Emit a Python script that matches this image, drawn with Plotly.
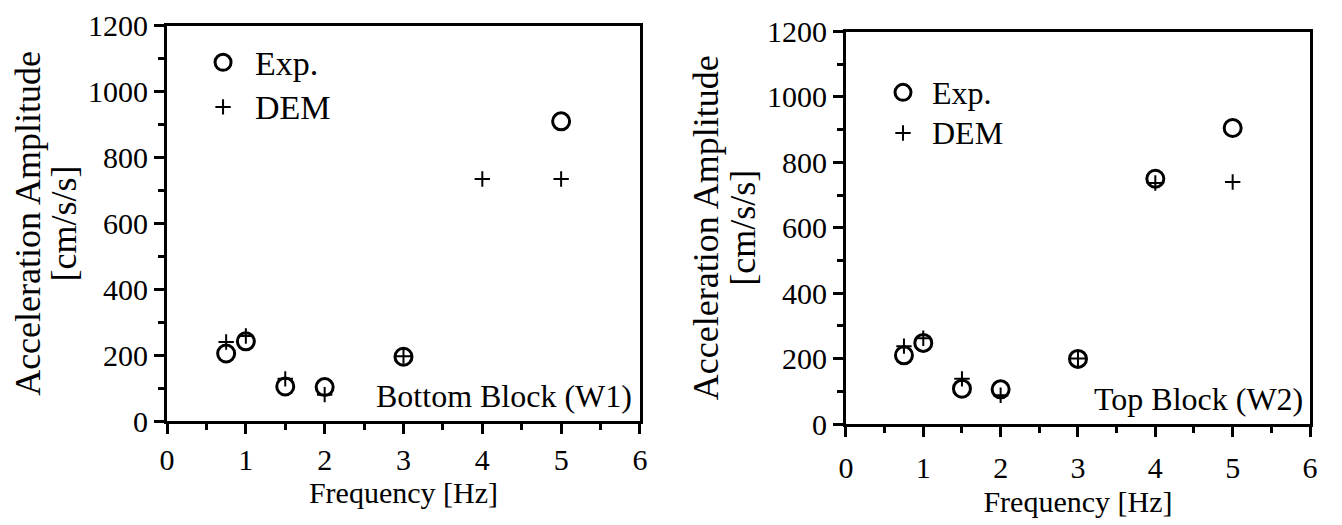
import plotly.graph_objects as go

freq = [0.75, 1.0, 1.5, 2.0, 3.0, 5.0]
freq_dem = [0.75, 1.0, 1.5, 2.0, 3.0, 4.0, 5.0]
w1_exp = [205, 242, 105, 103, 195, 910]
w1_dem = [240, 258, 128, 80, 197, 735, 735]

freq2 = [0.75, 1.0, 1.5, 2.0, 3.0, 4.0, 5.0]
w2_exp = [210, 248, 108, 106, 199, 750, 905]
w2_dem = [238, 262, 138, 88, 200, 737, 740]

x_ticks = [0, 1, 2, 3, 4, 5, 6]
y_ticks = [0, 200, 400, 600, 800, 1000, 1200]

FONT = "Liberation Serif"
TICK_SIZE = 30
XTITLE_SIZE = 30
fig = go.Figure()

circ = dict(symbol="circle-open", size=17, color="black", line=dict(width=3, color="black"))
plus = dict(symbol="cross-thin-open", size=11, color="black", line=dict(width=2, color="black"))


def lname(txt, px):
    return '<span style="font-size:%dpx">%s</span>' % (px, txt)


fig.add_trace(go.Scatter(x=freq, y=w1_exp, mode="markers", name=lname("Exp.", 34), marker=circ,
                         xaxis="x", yaxis="y", legend="legend", legendgroup="a"))
fig.add_trace(go.Scatter(x=freq_dem, y=w1_dem, mode="markers", name=lname("DEM", 34), marker=plus,
                         xaxis="x", yaxis="y", legend="legend", legendgroup="b"))
fig.add_trace(go.Scatter(x=freq2, y=w2_exp, mode="markers", name=lname("Exp.", 32), marker=circ,
                         xaxis="x2", yaxis="y2", legend="legend2", legendgroup="c"))
fig.add_trace(go.Scatter(x=freq2, y=w2_dem, mode="markers", name=lname("DEM", 32), marker=plus,
                         xaxis="x2", yaxis="y2", legend="legend2", legendgroup="d"))


def xax(domain, anchor, lblstand, standoff):
    return dict(domain=domain, anchor=anchor, range=[0, 6], tickvals=x_ticks,
                ticks="outside", ticklen=10, tickwidth=3, tickcolor="black",
                minor=dict(dtick=0.5, ticks="outside", ticklen=6, tickwidth=3, tickcolor="black"),
                showline=True, linewidth=3, linecolor="black", mirror=True,
                showgrid=False, zeroline=False, ticklabelstandoff=lblstand,
                ticklabeloverflow="allow",
                tickfont=dict(family=FONT, size=TICK_SIZE, color="black"),
                title=dict(text="Frequency [Hz]", font=dict(family=FONT, size=XTITLE_SIZE, color="black"),
                           standoff=standoff),
                automargin=False)


YTITLE = lname("Acceleration Amplitude", 36) + "<br>" + lname("[cm/s/s]", 36)


def yax(domain, anchor, standoff):
    return dict(domain=domain, anchor=anchor, range=[0, 1200], tickvals=y_ticks,
                ticks="outside", ticklen=10, tickwidth=3, tickcolor="black",
                minor=dict(dtick=100, ticks="outside", ticklen=6, tickwidth=3, tickcolor="black"),
                showline=True, linewidth=3, linecolor="black", mirror=True,
                showgrid=False, zeroline=False, ticklabeloverflow="allow",
                tickfont=dict(family=FONT, size=TICK_SIZE, color="black"),
                title=dict(text=YTITLE, font=dict(family=FONT, size=28, color="black"), standoff=standoff),
                automargin=False)


def leg(x, y, size, iw):
    return dict(x=x, y=y, xanchor="left", yanchor="top", bgcolor="rgba(0,0,0,0)",
                font=dict(family=FONT, size=size, color="black"), itemwidth=iw,
                traceorder="grouped", tracegroupgap=0)


fig.update_layout(
    width=1342, height=525,
    margin=dict(l=0, r=0, t=0, b=0),
    paper_bgcolor="white", plot_bgcolor="white",
    xaxis=xax([0.1185, 0.4709], "y", 0, 4),
    yaxis=yax([0.2133, 0.966], "x", 10),
    xaxis2=xax([0.6244, 0.9702], "y2", 5, 8),
    yaxis2=yax([0.2076, 0.9552], "x2", 4),
    legend=leg(0.1364, 0.9486, 32, 54),
    legend2=leg(0.6453, 0.8876, 29, 48),
    annotations=[
        dict(text="Bottom Block (W1)", xref="x", yref="y", x=5.93, y=15, xanchor="right", yanchor="bottom",
             showarrow=False, font=dict(family=FONT, size=32, color="black")),
        dict(text="Top Block (W2)", xref="x2", yref="y2", x=5.93, y=15, xanchor="right", yanchor="bottom",
             showarrow=False, font=dict(family=FONT, size=32, color="black")),
    ],
)

fig.write_html("out.html")
